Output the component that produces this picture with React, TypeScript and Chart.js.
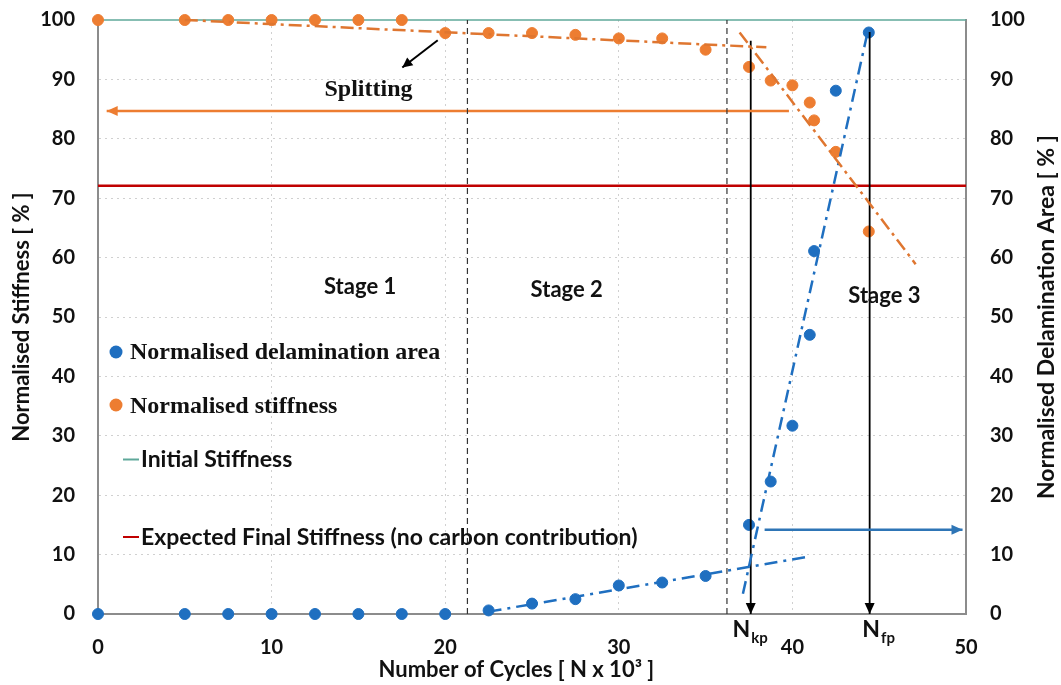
import React, { useEffect, useRef } from "react";
import { Chart, registerables } from "chart.js";

Chart.register(...registerables);

// ---- data ----
const cycles = [0, 5, 7.5, 10, 12.5, 15, 17.5, 20, 22.5, 25, 27.5, 30, 32.5, 35, 37.5, 38.75, 40, 41, 41.25, 42.5, 44.4];
const delaminationArea = [0, 0, 0, 0, 0, 0, 0, 0, 0.6, 1.75, 2.5, 4.8, 5.3, 6.4, 15.0, 22.3, 31.7, 47.0, 61.1, 88.1, 97.9];
const stiffness = [100, 100, 100, 100, 100, 100, 100, 97.8, 97.8, 97.8, 97.5, 96.9, 96.9, 95.0, 92.1, 89.8, 89.0, 86.1, 83.1, 77.8, 64.4];

const stiffTrend1X = [5, 38.5];
const stiffTrend1Y = [100, 95.4];
const stiffTrend2X = [36.96, 47.1];
const stiffTrend2Y = [97.9, 58.9];
const delamTrend1X = [22.5, 40.85];
const delamTrend1Y = [0.4, 9.6];
const delamTrend2X = [37.15, 44.35];
const delamTrend2Y = [3.4, 98.2];

const initialStiffness = 100;
const expectedFinalStiffness = 72.1;
const stageBoundaries = [21.28, 36.23];
const nkp = 37.6;
const nfp = 44.45;

const orangeArrowX = [39.8, 0.5];
const orangeArrowY = [84.7, 84.7];
const blueArrowX = [38.4, 49.8];
const blueArrowY = [14.2, 14.2];
const splitArrowX = [19.57, 17.53];
const splitArrowY = [96.6, 92.0];
const nkpTop = 96.5;
const nfpTop = 98;

const xTicks = [0, 10, 20, 30, 40, 50];
const yTicks = [0, 10, 20, 30, 40, 50, 60, 70, 80, 90, 100];

const xRange = [0, 50];
const yRange = [0, 100];

// ---- styles ----
const BLUE = "#1F6FC0";
const ORANGE = "#ED7D31";
const ORANGE_LINE = "#DF7630";
const TEAL = "#5FA89A";
const RED = "#C00000";
const SANS = "Lato, 'Open Sans', sans-serif";
const SERIF = "'Liberation Serif', 'DejaVu Serif', serif";

const pts = (xs: number[], ys: number[]) => xs.map((x, i) => ({ x, y: ys[i] }));

const arrowPlugin = {
  id: "annotations",
  afterDatasetsDraw(chart: any) {
    const ctx = chart.ctx;
    chart.data.datasets.forEach((ds: any, i: number) => {
      if (!ds.arrowHead) return;
      const meta = chart.getDatasetMeta(i);
      const n = meta.data.length;
      if (n < 2) return;
      const p1 = meta.data[n - 2];
      const p2 = meta.data[n - 1];
      const ang = Math.atan2(p2.y - p1.y, p2.x - p1.x);
      const L = ds.headLen || 11;
      const W = ds.headWidth || 5;
      ctx.save();
      ctx.fillStyle = ds.borderColor;
      ctx.beginPath();
      ctx.moveTo(p2.x, p2.y);
      ctx.lineTo(p2.x - L * Math.cos(ang) + W * Math.sin(ang), p2.y - L * Math.sin(ang) - W * Math.cos(ang));
      ctx.lineTo(p2.x - L * Math.cos(ang) - W * Math.sin(ang), p2.y - L * Math.sin(ang) + W * Math.cos(ang));
      ctx.closePath();
      ctx.fill();
      ctx.restore();
    });
  },
  afterDraw(chart: any) {
    const ctx = chart.ctx;
    const xs = chart.scales.x;
    const ys = chart.scales.y;
    const area = chart.chartArea;
    const X = (v: number) => xs.getPixelForValue(v);
    const Y = (v: number) => ys.getPixelForValue(v);
    ctx.save();
    ctx.fillStyle = "#111";
    ctx.textBaseline = "alphabetic";

    // Splitting
    ctx.font = `bold 24px ${SERIF}`;
    ctx.textAlign = "center";
    ctx.fillText("Splitting", X(15.58), Y(87.2));

    // Stage labels
    ctx.font = `bold 22px ${SANS}`;
    ctx.textBaseline = "middle";
    ctx.fillText("Stage 1", X(15.1), Y(55.1));
    ctx.fillText("Stage 2", X(27.0), Y(54.5));
    ctx.fillText("Stage 3", X(45.3), Y(53.5));

    // N_kp / N_fp
    ctx.textBaseline = "alphabetic";
    ctx.textAlign = "left";
    const drawSub = (main: string, sub: string, xv: number) => {
      const x0 = X(xv);
      ctx.font = `bold 23px ${SANS}`;
      ctx.fillText(main, x0, area.bottom + 23);
      const w = ctx.measureText(main).width;
      ctx.font = `bold 15px ${SANS}`;
      ctx.fillText(sub, x0 + w + 1, area.bottom + 29);
    };
    drawSub("N", "kp", 36.55);
    drawSub("N", "fp", 44.03);

    // Legend
    const lx = area.left;
    const legendDot = (color: string, cy: number) => {
      ctx.beginPath();
      ctx.fillStyle = color;
      ctx.arc(lx + 18, cy, 6.5, 0, Math.PI * 2);
      ctx.fill();
    };
    legendDot(BLUE, 352);
    legendDot(ORANGE, 405);
    ctx.fillStyle = "#111";
    ctx.font = `bold 24px ${SERIF}`;
    ctx.fillText("Normalised delamination area", lx + 32, 359);
    ctx.fillText("Normalised stiffness", lx + 32, 413);

    const legendLine = (color: string, cy: number) => {
      ctx.beginPath();
      ctx.strokeStyle = color;
      ctx.lineWidth = 2;
      ctx.moveTo(lx + 25, cy);
      ctx.lineTo(lx + 41, cy);
      ctx.stroke();
    };
    legendLine(TEAL, 459.5);
    legendLine(RED, 537);
    ctx.fillStyle = "#111";
    ctx.font = `bold 23px ${SANS}`;
    ctx.fillText("Initial Stiffness", lx + 43, 467);
    ctx.fillText("Expected Final Stiffness (no carbon contribution)", lx + 43, 545);

    // Axis titles
    ctx.font = `bold 22px ${SANS}`;
    ctx.textAlign = "center";
    ctx.textBaseline = "middle";
    const midY = (area.top + area.bottom) / 2;
    ctx.save();
    ctx.translate(21.6, midY);
    ctx.rotate(-Math.PI / 2);
    ctx.fillText("Normalised Stiffness [ % ]", 0, 0);
    ctx.restore();
    ctx.save();
    ctx.translate(1047, midY);
    ctx.rotate(-Math.PI / 2);
    ctx.font = `bold 23px ${SANS}`;
    ctx.fillText("Normalised Delamination Area [ % ]", 0, 0);
    ctx.restore();
    ctx.fillText("Number of Cycles [ N x 10\u00B3 ]", X(24.1), 670);
    ctx.restore();
  },
};

export default function App() {
  const ref = useRef<HTMLCanvasElement>(null);
  useEffect(() => {
    const lineDs = (data: any[], color: string, width: number, dash: number[], order: number, extra: any = {}) => ({
      type: "scatter" as const,
      data,
      showLine: true,
      borderColor: color,
      backgroundColor: color,
      borderWidth: width,
      borderDash: dash,
      pointRadius: 0,
      pointHoverRadius: 0,
      clip: false,
      order,
      ...extra,
    });
    const datasets: any[] = [
      lineDs(pts(xRange, [initialStiffness, initialStiffness]), TEAL, 1.5, [], 10),
      lineDs(pts(xRange, [expectedFinalStiffness, expectedFinalStiffness]), RED, 2.5, [], 10),
      {
        label: "Normalised delamination area",
        data: pts(cycles, delaminationArea),
        backgroundColor: BLUE,
        borderColor: BLUE,
        pointRadius: 5.5,
        showLine: false,
        clip: false,
        order: 5,
      },
      {
        label: "Normalised stiffness",
        data: pts(cycles, stiffness),
        backgroundColor: ORANGE,
        borderColor: ORANGE,
        pointRadius: 5.5,
        showLine: false,
        clip: false,
        order: 5,
      },
      lineDs(pts(stiffTrend1X, stiffTrend1Y), ORANGE_LINE, 2.5, [13, 5, 3, 5], 1),
      lineDs(pts(stiffTrend2X, stiffTrend2Y), ORANGE_LINE, 2.5, [13, 5, 3, 5], 1),
      lineDs(pts(delamTrend1X, delamTrend1Y), BLUE, 2.5, [13, 6, 3, 6], 1),
      lineDs(pts(delamTrend2X, delamTrend2Y), BLUE, 2.5, [13, 6, 3, 6], 1),
      lineDs(pts([stageBoundaries[0], stageBoundaries[0]], yRange), "#333", 1.2, [6, 4], 1),
      lineDs(pts([stageBoundaries[1], stageBoundaries[1]], yRange), "#333", 1.2, [6, 4], 1),
      lineDs(pts(orangeArrowX, orangeArrowY), ORANGE, 2.5, [], 1, { arrowHead: true, headLen: 11, headWidth: 5 }),
      lineDs(pts(blueArrowX, blueArrowY), "#2E75B6", 2.5, [], 1, { arrowHead: true, headLen: 11, headWidth: 5 }),
      lineDs(pts([nkp, nkp], [nkpTop, 0]), "#000", 1.8, [], 1, { arrowHead: true, headLen: 11, headWidth: 5 }),
      lineDs(pts([nfp, nfp], [nfpTop, 0]), "#000", 1.8, [], 1, { arrowHead: true, headLen: 11, headWidth: 5 }),
      lineDs(pts(splitArrowX, splitArrowY), "#000", 2, [], 1, { arrowHead: true, headLen: 10, headWidth: 5 }),
    ];

    const tickFont = { family: SANS, weight: "bold" as const, size: 20 };
    const noVertPad = (s: any) => {
      s.paddingTop = 0;
      s.paddingBottom = 0;
    };
    const chart = new Chart(ref.current!, {
      type: "scatter",
      data: { datasets },
      options: {
        animation: false,
        responsive: true,
        maintainAspectRatio: false,
        events: [],
        layout: { padding: { top: 20, left: 0, right: 0, bottom: 0 } },
        plugins: { legend: { display: false }, tooltip: { enabled: false } },
        scales: {
          x: {
            type: "linear",
            min: xRange[0],
            max: xRange[1],
            afterBuildTicks: (s: any) => {
              s.ticks = xTicks.map((v) => ({ value: v }));
            },
            afterFit: (s: any) => {
              s.height = 71;
              s.paddingLeft = 0;
              s.paddingRight = 0;
            },
            ticks: { font: tickFont, color: "#111", padding: 22, maxRotation: 0 },
            grid: {
              drawTicks: false,
              color: (c: any) => (c.tick && (c.tick.value === xRange[0] || c.tick.value === xRange[1]) ? "rgba(0,0,0,0)" : "#d0d0d0"),
              lineWidth: 1,
            },
            border: { display: true, color: "#8c8c8c", width: 2, dash: [2, 4] },
          },
          y: {
            position: "left",
            min: yRange[0],
            max: yRange[1],
            afterBuildTicks: (s: any) => {
              s.ticks = yTicks.map((v) => ({ value: v }));
            },
            afterFit: (s: any) => {
              s.width = 98;
              noVertPad(s);
            },
            ticks: { font: tickFont, color: "#111", padding: 23 },
            grid: {
              drawTicks: false,
              color: (c: any) => (c.tick && (c.tick.value === yRange[0] || c.tick.value === yRange[1]) ? "rgba(0,0,0,0)" : "#d0d0d0"),
              lineWidth: 1,
            },
            border: { display: true, color: "#8c8c8c", width: 2, dash: [2, 4] },
          },
          y2: {
            position: "right",
            min: yRange[0],
            max: yRange[1],
            afterBuildTicks: (s: any) => {
              s.ticks = yTicks.map((v) => ({ value: v }));
            },
            afterFit: (s: any) => {
              s.width = 95;
              noVertPad(s);
            },
            ticks: { font: tickFont, color: "#111", padding: 24 },
            grid: { display: false, drawTicks: false },
            border: { display: true, color: "#8c8c8c", width: 2 },
          },
        },
      } as any,
      plugins: [arrowPlugin],
    });
    return () => chart.destroy();
  }, []);

  return (
    <div style={{ position: "fixed", left: 0, top: 0, width: 1061, height: 685, background: "#fff" }}>
      <canvas ref={ref} />
    </div>
  );
}
